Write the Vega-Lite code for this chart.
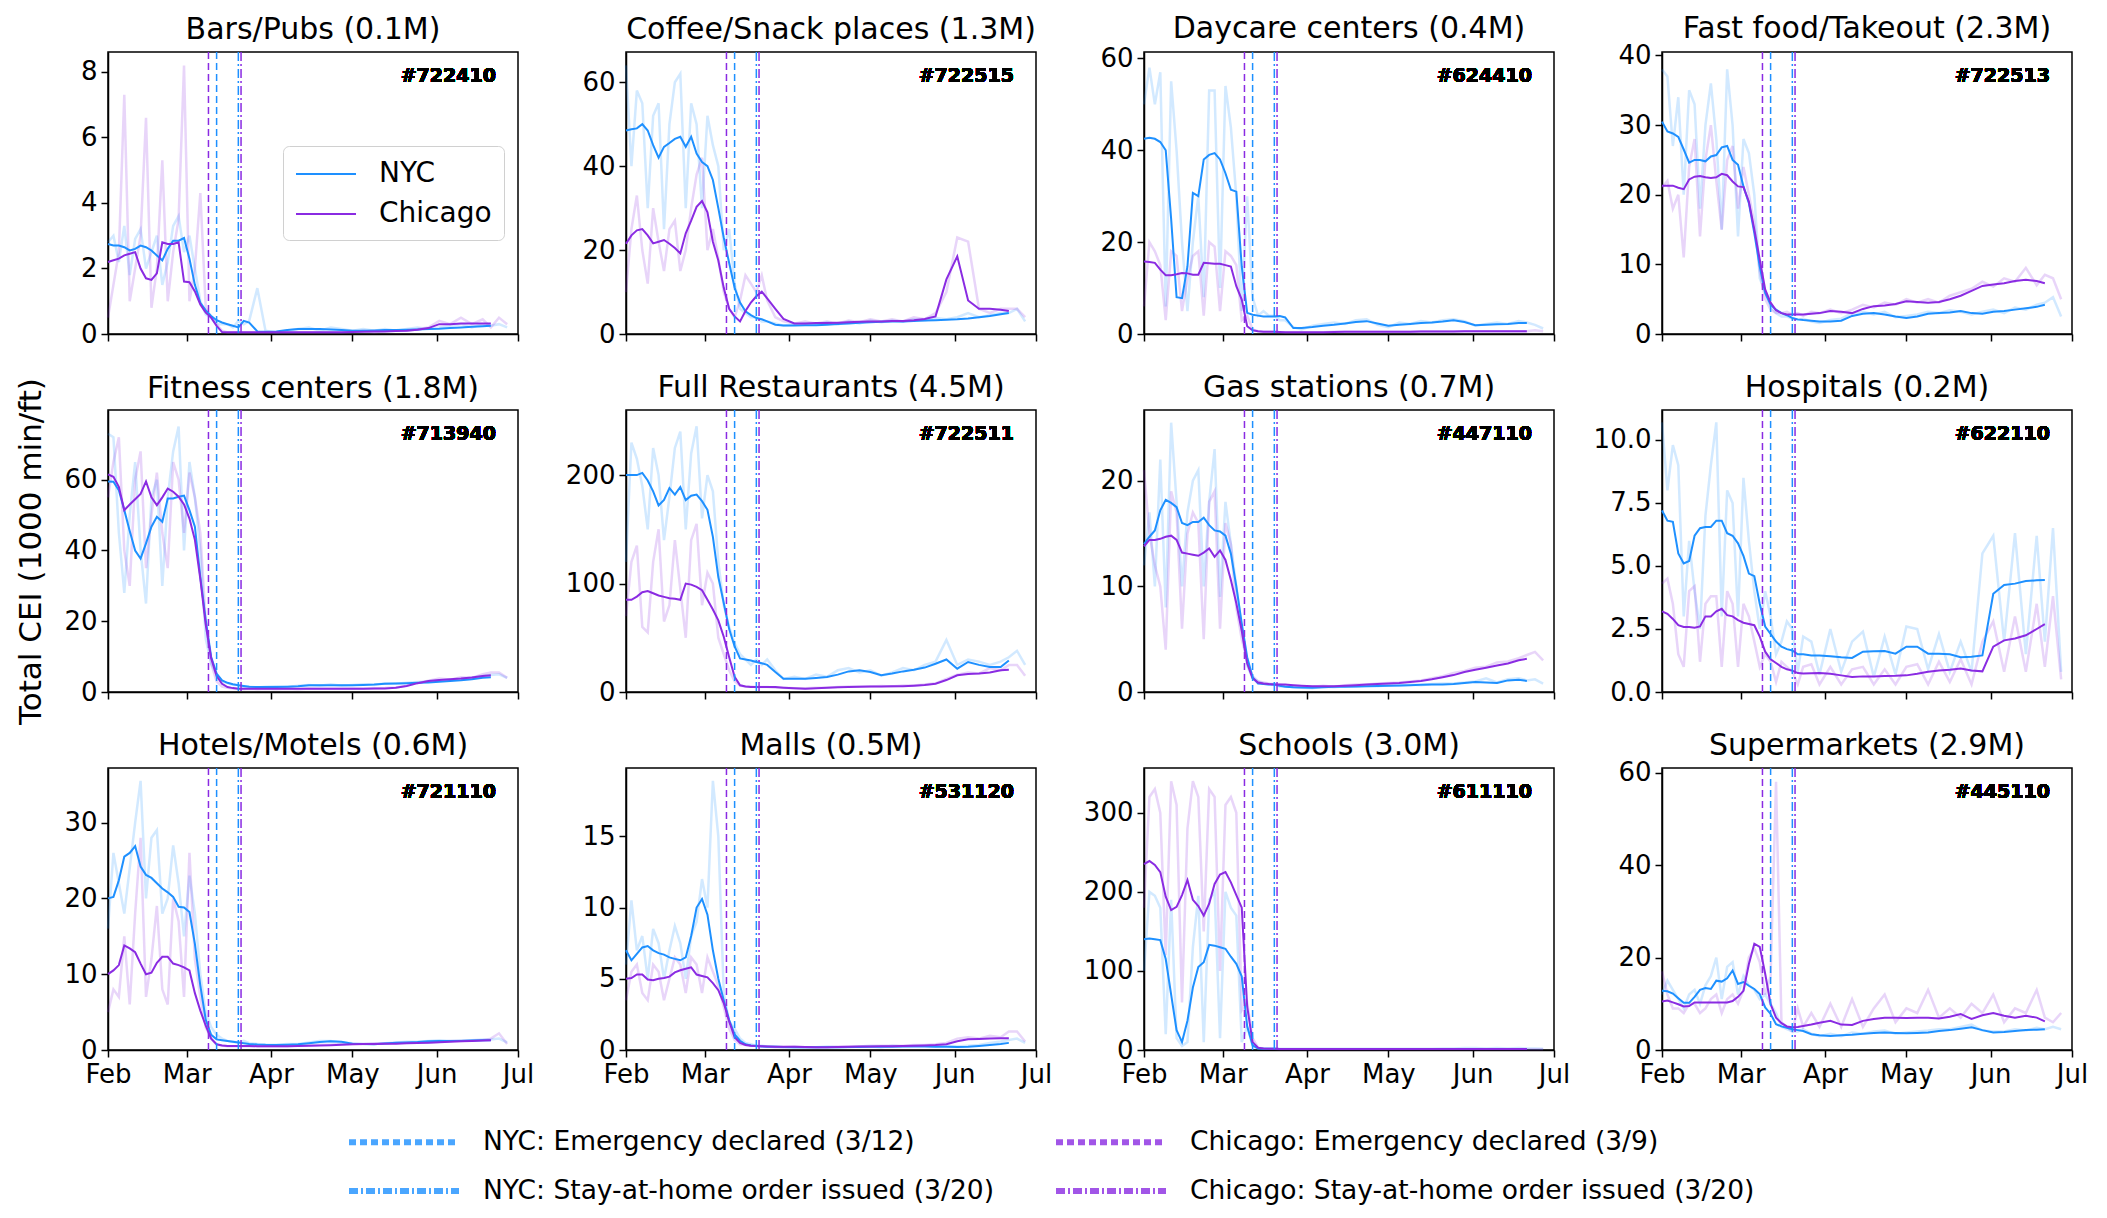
{
  "$schema": "https://vega.github.io/schema/vega-lite/v6.json",
  "background": "white",
  "padding": {"left": 15, "top": 13, "right": 5, "bottom": 5},
  "columns": 4,
  "spacing": {"row": 76, "column": 108},
  "bounds": "flush",
  "datasets": {
    "events": [
      {"d": "2020-03-12", "ev": "NYC: Emergency declared (3/12)"},
      {"d": "2020-03-09", "ev": "Chicago: Emergency declared (3/9)"},
      {"d": "2020-03-20", "ev": "NYC: Stay-at-home order issued (3/20)"},
      {"d": "2020-03-21", "ev": "Chicago: Stay-at-home order issued (3/20)"}
    ],
    "bars": [
      {"d":"2020-02-01","NYC":2.75,"Chicago":2.2,"n":2.8,"c":0.5},
      {"d":"2020-02-03","NYC":2.7,"Chicago":2.25,"n":3.0,"c":1.5},
      {"d":"2020-02-05","NYC":2.7,"Chicago":2.3,"n":2.2,"c":2.5},
      {"d":"2020-02-07","NYC":2.65,"Chicago":2.4,"n":3.3,"c":7.3},
      {"d":"2020-02-09","NYC":2.55,"Chicago":2.45,"n":1.8,"c":1.0},
      {"d":"2020-02-11","NYC":2.6,"Chicago":2.5,"n":2.9,"c":2.0},
      {"d":"2020-02-13","NYC":2.7,"Chicago":2.0,"n":3.2,"c":3.0},
      {"d":"2020-02-15","NYC":2.65,"Chicago":1.7,"n":2.0,"c":6.6},
      {"d":"2020-02-17","NYC":2.55,"Chicago":1.65,"n":2.5,"c":0.8},
      {"d":"2020-02-19","NYC":2.4,"Chicago":1.85,"n":3.0,"c":2.0},
      {"d":"2020-02-21","NYC":2.25,"Chicago":2.8,"n":1.5,"c":5.3},
      {"d":"2020-02-23","NYC":2.6,"Chicago":2.75,"n":2.2,"c":1.0},
      {"d":"2020-02-25","NYC":2.85,"Chicago":2.75,"n":3.3,"c":2.5},
      {"d":"2020-02-27","NYC":2.85,"Chicago":2.8,"n":3.6,"c":3.5},
      {"d":"2020-02-29","NYC":2.93,"Chicago":1.6,"n":2.5,"c":8.2},
      {"d":"2020-03-02","NYC":2.3,"Chicago":1.58,"n":3.0,"c":1.0},
      {"d":"2020-03-04","NYC":1.5,"Chicago":1.3,"n":2.0,"c":2.0},
      {"d":"2020-03-06","NYC":0.95,"Chicago":0.9,"n":1.0,"c":4.3},
      {"d":"2020-03-08","NYC":0.72,"Chicago":0.65,"n":0.6,"c":0.8},
      {"d":"2020-03-10","NYC":0.55,"Chicago":0.5,"n":0.5,"c":0.5},
      {"d":"2020-03-12","NYC":0.42,"Chicago":0.25,"n":0.3,"c":0.3},
      {"d":"2020-03-14","NYC":0.35,"Chicago":0.06,"n":0.3,"c":0.1},
      {"d":"2020-03-16","NYC":0.3,"Chicago":0.05,"n":0.3,"c":0.05},
      {"d":"2020-03-18","NYC":0.25,"Chicago":0.05,"n":0.2,"c":0.05},
      {"d":"2020-03-20","NYC":0.2,"Chicago":0.05,"n":0.4,"c":0.05},
      {"d":"2020-03-22","NYC":0.4,"Chicago":0.05,"n":0.3,"c":0.05},
      {"d":"2020-03-24","NYC":0.35,"Chicago":0.05,"n":0.4,"c":0.05},
      {"d":"2020-03-27","NYC":0.08,"Chicago":0.05,"n":1.4,"c":0.05},
      {"d":"2020-03-30","NYC":0.07,"Chicago":0.05,"n":0.1,"c":0.05},
      {"d":"2020-04-03","NYC":0.08,"Chicago":0.05,"n":0.05,"c":0.05},
      {"d":"2020-04-07","NYC":0.12,"Chicago":0.05,"n":0.1,"c":0.05},
      {"d":"2020-04-11","NYC":0.15,"Chicago":0.05,"n":0.15,"c":0.05},
      {"d":"2020-04-15","NYC":0.15,"Chicago":0.05,"n":0.2,"c":0.05},
      {"d":"2020-04-19","NYC":0.15,"Chicago":0.05,"n":0.1,"c":0.05},
      {"d":"2020-04-23","NYC":0.14,"Chicago":0.05,"n":0.2,"c":0.05},
      {"d":"2020-04-27","NYC":0.12,"Chicago":0.05,"n":0.15,"c":0.05},
      {"d":"2020-05-01","NYC":0.1,"Chicago":0.06,"n":0.1,"c":0.05},
      {"d":"2020-05-05","NYC":0.1,"Chicago":0.07,"n":0.15,"c":0.1},
      {"d":"2020-05-09","NYC":0.11,"Chicago":0.08,"n":0.1,"c":0.05},
      {"d":"2020-05-13","NYC":0.12,"Chicago":0.08,"n":0.15,"c":0.1},
      {"d":"2020-05-17","NYC":0.12,"Chicago":0.09,"n":0.1,"c":0.1},
      {"d":"2020-05-21","NYC":0.13,"Chicago":0.1,"n":0.15,"c":0.1},
      {"d":"2020-05-25","NYC":0.14,"Chicago":0.13,"n":0.2,"c":0.15},
      {"d":"2020-05-29","NYC":0.15,"Chicago":0.18,"n":0.15,"c":0.2},
      {"d":"2020-06-02","NYC":0.16,"Chicago":0.3,"n":0.2,"c":0.4},
      {"d":"2020-06-06","NYC":0.18,"Chicago":0.3,"n":0.25,"c":0.3},
      {"d":"2020-06-10","NYC":0.2,"Chicago":0.32,"n":0.3,"c":0.5},
      {"d":"2020-06-14","NYC":0.22,"Chicago":0.32,"n":0.2,"c":0.3},
      {"d":"2020-06-18","NYC":0.24,"Chicago":0.32,"n":0.3,"c":0.45},
      {"d":"2020-06-21","NYC":0.25,"Chicago":0.32,"n":0.25,"c":0.2},
      {"d":"2020-06-24","n":0.3,"c":0.5},
      {"d":"2020-06-27","n":0.2,"c":0.3}
    ],
    "coffee": [
      {"d":"2020-02-01","NYC":48.5,"Chicago":21.5,"n":64,"c":10},
      {"d":"2020-02-03","NYC":48.8,"Chicago":23.5,"n":40,"c":25},
      {"d":"2020-02-05","NYC":49,"Chicago":24.7,"n":58,"c":33},
      {"d":"2020-02-07","NYC":50,"Chicago":25,"n":55,"c":20},
      {"d":"2020-02-09","NYC":48.5,"Chicago":23.5,"n":30,"c":12},
      {"d":"2020-02-11","NYC":45,"Chicago":21.6,"n":52,"c":30},
      {"d":"2020-02-13","NYC":42,"Chicago":22,"n":55,"c":22},
      {"d":"2020-02-15","NYC":44.6,"Chicago":22.4,"n":25,"c":15},
      {"d":"2020-02-17","NYC":45.5,"Chicago":21.5,"n":50,"c":25},
      {"d":"2020-02-19","NYC":46.5,"Chicago":20.5,"n":60,"c":27},
      {"d":"2020-02-21","NYC":47,"Chicago":19.2,"n":62,"c":15},
      {"d":"2020-02-23","NYC":44.6,"Chicago":24,"n":30,"c":20},
      {"d":"2020-02-25","NYC":47,"Chicago":27,"n":55,"c":30},
      {"d":"2020-02-27","NYC":43,"Chicago":30.3,"n":50,"c":38},
      {"d":"2020-02-29","NYC":41,"Chicago":31.7,"n":30,"c":42},
      {"d":"2020-03-02","NYC":40,"Chicago":29,"n":52,"c":20},
      {"d":"2020-03-04","NYC":36.7,"Chicago":22,"n":45,"c":25},
      {"d":"2020-03-06","NYC":30,"Chicago":17.5,"n":40,"c":18},
      {"d":"2020-03-08","NYC":23,"Chicago":11,"n":20,"c":10},
      {"d":"2020-03-10","NYC":16.9,"Chicago":6,"n":25,"c":6},
      {"d":"2020-03-12","NYC":11,"Chicago":4.2,"n":12,"c":4},
      {"d":"2020-03-14","NYC":7.5,"Chicago":3.0,"n":6,"c":8},
      {"d":"2020-03-16","NYC":5.4,"Chicago":5.5,"n":5,"c":14},
      {"d":"2020-03-18","NYC":4.5,"Chicago":7.5,"n":4,"c":12},
      {"d":"2020-03-20","NYC":3.8,"Chicago":9,"n":4,"c":10},
      {"d":"2020-03-22","NYC":3.5,"Chicago":10.1,"n":3,"c":14},
      {"d":"2020-03-24","NYC":3.0,"Chicago":8.5,"n":3,"c":8},
      {"d":"2020-03-27","NYC":2.2,"Chicago":6,"n":2.5,"c":4},
      {"d":"2020-03-30","NYC":2.0,"Chicago":3.6,"n":2,"c":3},
      {"d":"2020-04-03","NYC":2.0,"Chicago":2.5,"n":2.2,"c":2.5},
      {"d":"2020-04-07","NYC":2.1,"Chicago":2.5,"n":2.5,"c":3},
      {"d":"2020-04-11","NYC":2.1,"Chicago":2.6,"n":2.2,"c":2.5},
      {"d":"2020-04-15","NYC":2.2,"Chicago":2.6,"n":2.8,"c":3},
      {"d":"2020-04-19","NYC":2.4,"Chicago":2.7,"n":2.3,"c":2.5},
      {"d":"2020-04-23","NYC":2.5,"Chicago":2.8,"n":3.0,"c":3.2},
      {"d":"2020-04-27","NYC":2.7,"Chicago":2.9,"n":2.5,"c":2.8},
      {"d":"2020-05-01","NYC":2.8,"Chicago":3.0,"n":3.2,"c":3.5},
      {"d":"2020-05-05","NYC":2.9,"Chicago":3.0,"n":2.8,"c":3},
      {"d":"2020-05-09","NYC":3.0,"Chicago":3.1,"n":3.2,"c":3.5},
      {"d":"2020-05-13","NYC":3.0,"Chicago":3.1,"n":2.9,"c":3},
      {"d":"2020-05-17","NYC":3.1,"Chicago":3.3,"n":3.5,"c":4},
      {"d":"2020-05-21","NYC":3.2,"Chicago":3.6,"n":3.2,"c":3.5},
      {"d":"2020-05-25","NYC":3.3,"Chicago":4.2,"n":3.8,"c":5},
      {"d":"2020-05-29","NYC":3.4,"Chicago":13,"n":3.5,"c":10},
      {"d":"2020-06-02","NYC":3.5,"Chicago":18.5,"n":4,"c":23},
      {"d":"2020-06-06","NYC":3.7,"Chicago":8,"n":5,"c":22},
      {"d":"2020-06-10","NYC":4.0,"Chicago":6,"n":4,"c":6},
      {"d":"2020-06-14","NYC":4.3,"Chicago":6,"n":4.5,"c":5},
      {"d":"2020-06-18","NYC":4.7,"Chicago":5.8,"n":5,"c":6},
      {"d":"2020-06-21","NYC":5.0,"Chicago":5.5,"n":5,"c":6},
      {"d":"2020-06-24","n":6,"c":6},
      {"d":"2020-06-27","n":3,"c":4}
    ],
    "daycare": [
      {"d":"2020-02-01","NYC":42.5,"Chicago":15.8,"n":50,"c":6},
      {"d":"2020-02-03","NYC":42.7,"Chicago":15.7,"n":58,"c":20},
      {"d":"2020-02-05","NYC":42.5,"Chicago":15.5,"n":50,"c":18},
      {"d":"2020-02-07","NYC":41.8,"Chicago":14,"n":57,"c":15},
      {"d":"2020-02-09","NYC":40,"Chicago":12.8,"n":6,"c":3},
      {"d":"2020-02-11","NYC":25,"Chicago":12.8,"n":55,"c":18},
      {"d":"2020-02-13","NYC":8,"Chicago":13,"n":40,"c":17},
      {"d":"2020-02-15","NYC":7.8,"Chicago":13.3,"n":20,"c":5},
      {"d":"2020-02-17","NYC":14.7,"Chicago":13.2,"n":5,"c":12},
      {"d":"2020-02-19","NYC":30.7,"Chicago":12.9,"n":20,"c":17},
      {"d":"2020-02-21","NYC":30,"Chicago":12.9,"n":30,"c":18},
      {"d":"2020-02-23","NYC":38,"Chicago":15.5,"n":8,"c":4},
      {"d":"2020-02-25","NYC":39,"Chicago":15.4,"n":53,"c":20},
      {"d":"2020-02-27","NYC":39.4,"Chicago":15.3,"n":53,"c":19},
      {"d":"2020-02-29","NYC":38,"Chicago":15.3,"n":10,"c":5},
      {"d":"2020-03-02","NYC":35,"Chicago":15,"n":54,"c":18},
      {"d":"2020-03-04","NYC":31.4,"Chicago":14.7,"n":45,"c":17},
      {"d":"2020-03-06","NYC":31,"Chicago":10.4,"n":30,"c":15},
      {"d":"2020-03-08","NYC":14.7,"Chicago":7.5,"n":5,"c":3},
      {"d":"2020-03-10","NYC":4.6,"Chicago":1.7,"n":30,"c":4},
      {"d":"2020-03-12","NYC":4.2,"Chicago":0.8,"n":8,"c":1},
      {"d":"2020-03-14","NYC":4.0,"Chicago":0.6,"n":4,"c":0.6},
      {"d":"2020-03-16","NYC":3.8,"Chicago":0.5,"n":5,"c":0.5},
      {"d":"2020-03-18","NYC":3.8,"Chicago":0.5,"n":4,"c":0.5},
      {"d":"2020-03-20","NYC":3.8,"Chicago":0.5,"n":4,"c":0.5},
      {"d":"2020-03-22","NYC":3.9,"Chicago":0.45,"n":3,"c":0.4},
      {"d":"2020-03-24","NYC":3.6,"Chicago":0.4,"n":3,"c":0.4},
      {"d":"2020-03-27","NYC":1.3,"Chicago":0.4,"n":1.5,"c":0.4},
      {"d":"2020-03-30","NYC":1.3,"Chicago":0.4,"n":1,"c":0.4},
      {"d":"2020-04-03","NYC":1.5,"Chicago":0.4,"n":1.8,"c":0.4},
      {"d":"2020-04-07","NYC":1.8,"Chicago":0.4,"n":2.2,"c":0.4},
      {"d":"2020-04-11","NYC":2.0,"Chicago":0.45,"n":2.5,"c":0.5},
      {"d":"2020-04-15","NYC":2.3,"Chicago":0.5,"n":2.2,"c":0.5},
      {"d":"2020-04-19","NYC":2.6,"Chicago":0.5,"n":3,"c":0.5},
      {"d":"2020-04-23","NYC":2.8,"Chicago":0.5,"n":3.2,"c":0.5},
      {"d":"2020-04-27","NYC":2.3,"Chicago":0.5,"n":2.0,"c":0.5},
      {"d":"2020-05-01","NYC":1.8,"Chicago":0.5,"n":1.5,"c":0.5},
      {"d":"2020-05-05","NYC":2.0,"Chicago":0.5,"n":2.5,"c":0.5},
      {"d":"2020-05-09","NYC":2.2,"Chicago":0.5,"n":2.2,"c":0.5},
      {"d":"2020-05-13","NYC":2.4,"Chicago":0.55,"n":2.8,"c":0.6},
      {"d":"2020-05-17","NYC":2.5,"Chicago":0.55,"n":2.5,"c":0.6},
      {"d":"2020-05-21","NYC":2.7,"Chicago":0.55,"n":3,"c":0.6},
      {"d":"2020-05-25","NYC":3.0,"Chicago":0.55,"n":3.2,"c":0.6},
      {"d":"2020-05-29","NYC":2.6,"Chicago":0.6,"n":2.8,"c":0.6},
      {"d":"2020-06-02","NYC":1.9,"Chicago":0.6,"n":1.8,"c":0.6},
      {"d":"2020-06-06","NYC":2.0,"Chicago":0.6,"n":2.2,"c":0.6},
      {"d":"2020-06-10","NYC":2.1,"Chicago":0.6,"n":2.5,"c":0.6},
      {"d":"2020-06-14","NYC":2.2,"Chicago":0.6,"n":2.2,"c":0.6},
      {"d":"2020-06-18","NYC":2.4,"Chicago":0.6,"n":2.8,"c":0.6},
      {"d":"2020-06-21","NYC":2.4,"Chicago":0.6,"n":2.5,"c":0.6},
      {"d":"2020-06-24","n":2.0,"c":0.8},
      {"d":"2020-06-27","n":1.2,"c":0.6}
    ],
    "fastfood": [
      {"d":"2020-02-01","NYC":30.5,"Chicago":21.3,"n":38,"c":21},
      {"d":"2020-02-03","NYC":29.1,"Chicago":21.3,"n":37,"c":22},
      {"d":"2020-02-05","NYC":28.8,"Chicago":21.3,"n":27,"c":18},
      {"d":"2020-02-07","NYC":28.3,"Chicago":21,"n":34,"c":20},
      {"d":"2020-02-09","NYC":26.5,"Chicago":20.8,"n":20,"c":11},
      {"d":"2020-02-11","NYC":24.6,"Chicago":22.2,"n":35,"c":24},
      {"d":"2020-02-13","NYC":25,"Chicago":22.6,"n":33,"c":28},
      {"d":"2020-02-15","NYC":25,"Chicago":22.7,"n":18,"c":14},
      {"d":"2020-02-17","NYC":24.8,"Chicago":22.5,"n":30,"c":25},
      {"d":"2020-02-19","NYC":25.5,"Chicago":22.4,"n":36,"c":30},
      {"d":"2020-02-21","NYC":25.7,"Chicago":22.5,"n":28,"c":22},
      {"d":"2020-02-23","NYC":26.8,"Chicago":23,"n":15,"c":15},
      {"d":"2020-02-25","NYC":27,"Chicago":22.8,"n":38,"c":25},
      {"d":"2020-02-27","NYC":25,"Chicago":21.9,"n":30,"c":27},
      {"d":"2020-02-29","NYC":24.3,"Chicago":21.2,"n":14,"c":18},
      {"d":"2020-03-02","NYC":21.2,"Chicago":21.1,"n":28,"c":24},
      {"d":"2020-03-04","NYC":18.8,"Chicago":19,"n":26,"c":20},
      {"d":"2020-03-06","NYC":14.5,"Chicago":15,"n":20,"c":16},
      {"d":"2020-03-08","NYC":9.7,"Chicago":10.7,"n":8,"c":9},
      {"d":"2020-03-10","NYC":5.9,"Chicago":6.4,"n":6,"c":5},
      {"d":"2020-03-12","NYC":4.2,"Chicago":4.5,"n":4,"c":3.5},
      {"d":"2020-03-14","NYC":3.5,"Chicago":3.4,"n":3,"c":3},
      {"d":"2020-03-16","NYC":3.0,"Chicago":3.0,"n":2.5,"c":3},
      {"d":"2020-03-18","NYC":2.7,"Chicago":2.8,"n":2.5,"c":3.2},
      {"d":"2020-03-20","NYC":2.3,"Chicago":2.8,"n":2.2,"c":2.8},
      {"d":"2020-03-22","NYC":2.1,"Chicago":2.8,"n":2,"c":3},
      {"d":"2020-03-24","NYC":2.0,"Chicago":2.8,"n":2.2,"c":2.6},
      {"d":"2020-03-27","NYC":1.9,"Chicago":2.9,"n":1.8,"c":3.2},
      {"d":"2020-03-30","NYC":1.8,"Chicago":3.0,"n":1.6,"c":3},
      {"d":"2020-04-03","NYC":1.8,"Chicago":3.3,"n":2,"c":3.5},
      {"d":"2020-04-07","NYC":1.9,"Chicago":3.2,"n":2.2,"c":3},
      {"d":"2020-04-11","NYC":2.6,"Chicago":3.0,"n":3,"c":3.5},
      {"d":"2020-04-15","NYC":2.9,"Chicago":3.6,"n":3.2,"c":4.2},
      {"d":"2020-04-19","NYC":3.0,"Chicago":4.0,"n":2.8,"c":3.8},
      {"d":"2020-04-23","NYC":2.8,"Chicago":4.1,"n":3.2,"c":4.5},
      {"d":"2020-04-27","NYC":2.5,"Chicago":4.3,"n":2.4,"c":4.2},
      {"d":"2020-05-01","NYC":2.3,"Chicago":4.7,"n":2.6,"c":5},
      {"d":"2020-05-05","NYC":2.5,"Chicago":4.6,"n":2.8,"c":4.5},
      {"d":"2020-05-09","NYC":2.9,"Chicago":4.5,"n":3.2,"c":5},
      {"d":"2020-05-13","NYC":3.0,"Chicago":4.6,"n":3,"c":4.5},
      {"d":"2020-05-17","NYC":3.1,"Chicago":5.0,"n":3.4,"c":5.5},
      {"d":"2020-05-21","NYC":3.3,"Chicago":5.5,"n":3.2,"c":6},
      {"d":"2020-05-25","NYC":3.0,"Chicago":6.2,"n":2.8,"c":6.5},
      {"d":"2020-05-29","NYC":2.9,"Chicago":6.9,"n":3.2,"c":7.5},
      {"d":"2020-06-02","NYC":3.2,"Chicago":7.1,"n":3.5,"c":6.8},
      {"d":"2020-06-06","NYC":3.3,"Chicago":7.3,"n":3,"c":8},
      {"d":"2020-06-10","NYC":3.5,"Chicago":7.6,"n":3.8,"c":7.5},
      {"d":"2020-06-14","NYC":3.7,"Chicago":7.8,"n":3.5,"c":9.5},
      {"d":"2020-06-18","NYC":3.9,"Chicago":7.6,"n":4.2,"c":7},
      {"d":"2020-06-21","NYC":4.2,"Chicago":7.3,"n":4.5,"c":8.5},
      {"d":"2020-06-24","n":5.3,"c":8},
      {"d":"2020-06-27","n":2.5,"c":5}
    ],
    "fitness": [
      {"d":"2020-02-01","NYC":59.5,"Chicago":61.5,"n":73,"c":55},
      {"d":"2020-02-03","NYC":59.4,"Chicago":60.8,"n":72,"c":65},
      {"d":"2020-02-05","NYC":57,"Chicago":58,"n":45,"c":72},
      {"d":"2020-02-07","NYC":51.4,"Chicago":51.4,"n":28,"c":40},
      {"d":"2020-02-09","NYC":45.5,"Chicago":53,"n":50,"c":30},
      {"d":"2020-02-11","NYC":40,"Chicago":54.5,"n":65,"c":60},
      {"d":"2020-02-13","NYC":37.7,"Chicago":56,"n":40,"c":68},
      {"d":"2020-02-15","NYC":42,"Chicago":59.5,"n":25,"c":35},
      {"d":"2020-02-17","NYC":46.7,"Chicago":55,"n":55,"c":50},
      {"d":"2020-02-19","NYC":49.5,"Chicago":52.8,"n":60,"c":62},
      {"d":"2020-02-21","NYC":48.1,"Chicago":55,"n":30,"c":45},
      {"d":"2020-02-23","NYC":54.7,"Chicago":57.5,"n":55,"c":35},
      {"d":"2020-02-25","NYC":54.7,"Chicago":56.6,"n":68,"c":65},
      {"d":"2020-02-27","NYC":55.2,"Chicago":55.2,"n":75,"c":60},
      {"d":"2020-02-29","NYC":55.5,"Chicago":53,"n":40,"c":45},
      {"d":"2020-03-02","NYC":51.4,"Chicago":49,"n":65,"c":62},
      {"d":"2020-03-04","NYC":46.7,"Chicago":43,"n":55,"c":55},
      {"d":"2020-03-06","NYC":32.5,"Chicago":32,"n":40,"c":45},
      {"d":"2020-03-08","NYC":20.3,"Chicago":19,"n":15,"c":20},
      {"d":"2020-03-10","NYC":9.9,"Chicago":9.5,"n":8,"c":8},
      {"d":"2020-03-12","NYC":5.2,"Chicago":4.5,"n":5,"c":3},
      {"d":"2020-03-14","NYC":3.3,"Chicago":2.3,"n":3,"c":1.5},
      {"d":"2020-03-16","NYC":2.6,"Chicago":1.4,"n":2.5,"c":1.2},
      {"d":"2020-03-18","NYC":2.2,"Chicago":1.1,"n":2,"c":1},
      {"d":"2020-03-20","NYC":1.9,"Chicago":0.9,"n":2,"c":0.9},
      {"d":"2020-03-22","NYC":1.7,"Chicago":0.9,"n":1.5,"c":0.8},
      {"d":"2020-03-24","NYC":1.5,"Chicago":0.9,"n":1.5,"c":0.9},
      {"d":"2020-03-27","NYC":1.4,"Chicago":0.9,"n":1.3,"c":0.8},
      {"d":"2020-03-30","NYC":1.4,"Chicago":0.9,"n":1.5,"c":0.9},
      {"d":"2020-04-03","NYC":1.4,"Chicago":0.9,"n":1.6,"c":0.8},
      {"d":"2020-04-07","NYC":1.5,"Chicago":0.9,"n":1.4,"c":0.9},
      {"d":"2020-04-11","NYC":1.6,"Chicago":0.9,"n":1.8,"c":0.8},
      {"d":"2020-04-15","NYC":1.9,"Chicago":0.9,"n":2,"c":1},
      {"d":"2020-04-19","NYC":1.9,"Chicago":0.9,"n":1.8,"c":0.9},
      {"d":"2020-04-23","NYC":1.9,"Chicago":0.9,"n":2.2,"c":0.9},
      {"d":"2020-04-27","NYC":1.9,"Chicago":0.9,"n":1.8,"c":0.9},
      {"d":"2020-05-01","NYC":1.9,"Chicago":0.9,"n":2,"c":1},
      {"d":"2020-05-05","NYC":2.0,"Chicago":0.9,"n":2.2,"c":0.9},
      {"d":"2020-05-09","NYC":2.1,"Chicago":1.0,"n":2,"c":1},
      {"d":"2020-05-13","NYC":2.3,"Chicago":1.0,"n":2.5,"c":1.1},
      {"d":"2020-05-17","NYC":2.4,"Chicago":1.2,"n":2.3,"c":1.3},
      {"d":"2020-05-21","NYC":2.5,"Chicago":1.7,"n":2.6,"c":1.8},
      {"d":"2020-05-25","NYC":2.6,"Chicago":2.5,"n":2.8,"c":2.5},
      {"d":"2020-05-29","NYC":2.7,"Chicago":3.1,"n":3,"c":3.2},
      {"d":"2020-06-02","NYC":2.9,"Chicago":3.4,"n":3.2,"c":3.8},
      {"d":"2020-06-06","NYC":3.1,"Chicago":3.6,"n":3.3,"c":3.5},
      {"d":"2020-06-10","NYC":3.3,"Chicago":3.8,"n":3.6,"c":4.2},
      {"d":"2020-06-14","NYC":3.6,"Chicago":4.1,"n":4,"c":4},
      {"d":"2020-06-18","NYC":4.0,"Chicago":4.5,"n":4.5,"c":5},
      {"d":"2020-06-21","NYC":4.2,"Chicago":4.7,"n":4.8,"c":5.5},
      {"d":"2020-06-24","n":5,"c":5.5},
      {"d":"2020-06-27","n":4,"c":4}
    ],
    "fullrest": [
      {"d":"2020-02-01","NYC":200,"Chicago":85,"n":120,"c":70},
      {"d":"2020-02-03","NYC":200,"Chicago":85,"n":230,"c":120},
      {"d":"2020-02-05","NYC":200,"Chicago":88,"n":215,"c":135},
      {"d":"2020-02-07","NYC":202,"Chicago":92,"n":190,"c":60},
      {"d":"2020-02-09","NYC":195,"Chicago":93,"n":150,"c":55},
      {"d":"2020-02-11","NYC":185,"Chicago":91,"n":225,"c":120},
      {"d":"2020-02-13","NYC":172,"Chicago":89,"n":200,"c":150},
      {"d":"2020-02-15","NYC":177,"Chicago":87.7,"n":140,"c":65},
      {"d":"2020-02-17","NYC":188,"Chicago":86.5,"n":180,"c":80},
      {"d":"2020-02-19","NYC":182,"Chicago":86,"n":225,"c":140},
      {"d":"2020-02-21","NYC":189,"Chicago":85,"n":240,"c":95},
      {"d":"2020-02-23","NYC":177,"Chicago":100,"n":150,"c":50},
      {"d":"2020-02-25","NYC":181,"Chicago":99,"n":220,"c":140},
      {"d":"2020-02-27","NYC":182,"Chicago":97,"n":245,"c":155},
      {"d":"2020-02-29","NYC":176,"Chicago":93.8,"n":160,"c":80},
      {"d":"2020-03-02","NYC":168,"Chicago":85,"n":200,"c":110},
      {"d":"2020-03-04","NYC":143,"Chicago":76,"n":185,"c":100},
      {"d":"2020-03-06","NYC":106,"Chicago":66,"n":120,"c":50},
      {"d":"2020-03-08","NYC":82,"Chicago":51,"n":80,"c":35},
      {"d":"2020-03-10","NYC":58,"Chicago":32,"n":60,"c":20},
      {"d":"2020-03-12","NYC":42,"Chicago":14,"n":45,"c":10},
      {"d":"2020-03-14","NYC":31,"Chicago":6.2,"n":35,"c":6},
      {"d":"2020-03-16","NYC":30,"Chicago":5,"n":30,"c":5},
      {"d":"2020-03-18","NYC":29,"Chicago":4.6,"n":25,"c":5},
      {"d":"2020-03-20","NYC":27.7,"Chicago":4.6,"n":30,"c":4.5},
      {"d":"2020-03-22","NYC":26.5,"Chicago":4.6,"n":25,"c":4.5},
      {"d":"2020-03-24","NYC":25,"Chicago":4.6,"n":30,"c":4.5},
      {"d":"2020-03-27","NYC":18.5,"Chicago":4.5,"n":20,"c":4},
      {"d":"2020-03-30","NYC":12.3,"Chicago":4,"n":12,"c":4},
      {"d":"2020-04-03","NYC":12.3,"Chicago":3.5,"n":14,"c":3.5},
      {"d":"2020-04-07","NYC":12.3,"Chicago":3.1,"n":12,"c":3.5},
      {"d":"2020-04-11","NYC":13,"Chicago":3.5,"n":16,"c":4},
      {"d":"2020-04-15","NYC":13.8,"Chicago":4,"n":14,"c":4},
      {"d":"2020-04-19","NYC":16,"Chicago":4.4,"n":20,"c":4.5},
      {"d":"2020-04-23","NYC":19,"Chicago":4.6,"n":22,"c":5},
      {"d":"2020-04-27","NYC":20,"Chicago":4.8,"n":18,"c":5},
      {"d":"2020-05-01","NYC":18.5,"Chicago":5,"n":20,"c":5},
      {"d":"2020-05-05","NYC":15.4,"Chicago":5,"n":15,"c":5.5},
      {"d":"2020-05-09","NYC":17,"Chicago":5.2,"n":18,"c":5},
      {"d":"2020-05-13","NYC":19,"Chicago":5.3,"n":22,"c":6},
      {"d":"2020-05-17","NYC":20.5,"Chicago":5.8,"n":20,"c":6},
      {"d":"2020-05-21","NYC":22.5,"Chicago":6.5,"n":25,"c":7},
      {"d":"2020-05-25","NYC":26,"Chicago":7.7,"n":28,"c":8},
      {"d":"2020-05-29","NYC":30,"Chicago":11,"n":48,"c":12},
      {"d":"2020-06-02","NYC":21.5,"Chicago":15.4,"n":25,"c":16},
      {"d":"2020-06-06","NYC":27.7,"Chicago":16.5,"n":30,"c":18},
      {"d":"2020-06-10","NYC":25,"Chicago":17,"n":28,"c":17},
      {"d":"2020-06-14","NYC":23,"Chicago":18,"n":25,"c":22},
      {"d":"2020-06-18","NYC":23,"Chicago":20,"n":28,"c":20},
      {"d":"2020-06-21","NYC":29,"Chicago":20.6,"n":32,"c":25},
      {"d":"2020-06-24","n":38,"c":25},
      {"d":"2020-06-27","n":25,"c":15}
    ],
    "gas": [
      {"d":"2020-02-01","NYC":14,"Chicago":13.8,"n":12,"c":21},
      {"d":"2020-02-03","NYC":14.7,"Chicago":14.4,"n":17,"c":15},
      {"d":"2020-02-05","NYC":15.3,"Chicago":14.4,"n":10,"c":12},
      {"d":"2020-02-07","NYC":17.2,"Chicago":14.5,"n":22,"c":10},
      {"d":"2020-02-09","NYC":18.2,"Chicago":14.7,"n":8,"c":4},
      {"d":"2020-02-11","NYC":17.9,"Chicago":14.8,"n":25.5,"c":19},
      {"d":"2020-02-13","NYC":17.5,"Chicago":14.4,"n":18,"c":17},
      {"d":"2020-02-15","NYC":16,"Chicago":13.2,"n":10,"c":6},
      {"d":"2020-02-17","NYC":15.8,"Chicago":13.1,"n":17,"c":15},
      {"d":"2020-02-19","NYC":16.1,"Chicago":13,"n":20,"c":17},
      {"d":"2020-02-21","NYC":16.1,"Chicago":12.9,"n":21,"c":16},
      {"d":"2020-02-23","NYC":16.5,"Chicago":13.2,"n":10,"c":5},
      {"d":"2020-02-25","NYC":15.8,"Chicago":13.6,"n":18,"c":18},
      {"d":"2020-02-27","NYC":15.3,"Chicago":12.8,"n":23,"c":19},
      {"d":"2020-02-29","NYC":15.2,"Chicago":13.4,"n":9,"c":6},
      {"d":"2020-03-02","NYC":14.8,"Chicago":12.5,"n":18,"c":16},
      {"d":"2020-03-04","NYC":13.1,"Chicago":10.6,"n":14,"c":14},
      {"d":"2020-03-06","NYC":10,"Chicago":8.4,"n":10,"c":8},
      {"d":"2020-03-08","NYC":6.5,"Chicago":5.8,"n":6,"c":5},
      {"d":"2020-03-10","NYC":3.3,"Chicago":2.7,"n":2.5,"c":3},
      {"d":"2020-03-12","NYC":1.4,"Chicago":1.3,"n":1.3,"c":1.5},
      {"d":"2020-03-14","NYC":0.8,"Chicago":0.9,"n":1.0,"c":1.0},
      {"d":"2020-03-16","NYC":0.75,"Chicago":0.8,"n":0.8,"c":0.9},
      {"d":"2020-03-18","NYC":0.72,"Chicago":0.75,"n":0.7,"c":0.8},
      {"d":"2020-03-20","NYC":0.7,"Chicago":0.72,"n":0.8,"c":0.7},
      {"d":"2020-03-22","NYC":0.6,"Chicago":0.7,"n":0.5,"c":0.7},
      {"d":"2020-03-24","NYC":0.5,"Chicago":0.7,"n":0.6,"c":0.6},
      {"d":"2020-03-27","NYC":0.45,"Chicago":0.65,"n":0.45,"c":0.6},
      {"d":"2020-03-30","NYC":0.42,"Chicago":0.6,"n":0.4,"c":0.55},
      {"d":"2020-04-03","NYC":0.4,"Chicago":0.55,"n":0.35,"c":0.5},
      {"d":"2020-04-07","NYC":0.45,"Chicago":0.55,"n":0.5,"c":0.6},
      {"d":"2020-04-11","NYC":0.5,"Chicago":0.55,"n":0.45,"c":0.5},
      {"d":"2020-04-15","NYC":0.5,"Chicago":0.6,"n":0.55,"c":0.65},
      {"d":"2020-04-19","NYC":0.52,"Chicago":0.65,"n":0.5,"c":0.7},
      {"d":"2020-04-23","NYC":0.55,"Chicago":0.7,"n":0.6,"c":0.7},
      {"d":"2020-04-27","NYC":0.57,"Chicago":0.75,"n":0.55,"c":0.8},
      {"d":"2020-05-01","NYC":0.6,"Chicago":0.8,"n":0.65,"c":0.85},
      {"d":"2020-05-05","NYC":0.62,"Chicago":0.85,"n":0.6,"c":0.9},
      {"d":"2020-05-09","NYC":0.65,"Chicago":0.95,"n":0.7,"c":1.0},
      {"d":"2020-05-13","NYC":0.68,"Chicago":1.05,"n":0.65,"c":1.1},
      {"d":"2020-05-17","NYC":0.7,"Chicago":1.2,"n":0.75,"c":1.3},
      {"d":"2020-05-21","NYC":0.72,"Chicago":1.4,"n":0.8,"c":1.5},
      {"d":"2020-05-25","NYC":0.75,"Chicago":1.6,"n":0.8,"c":1.8},
      {"d":"2020-05-29","NYC":0.85,"Chicago":1.9,"n":0.9,"c":2.0},
      {"d":"2020-06-02","NYC":0.95,"Chicago":2.1,"n":1.0,"c":2.3},
      {"d":"2020-06-06","NYC":0.9,"Chicago":2.3,"n":1.3,"c":2.4},
      {"d":"2020-06-10","NYC":0.85,"Chicago":2.5,"n":0.9,"c":2.8},
      {"d":"2020-06-14","NYC":1.1,"Chicago":2.7,"n":1.2,"c":2.9},
      {"d":"2020-06-18","NYC":1.15,"Chicago":3.0,"n":1.3,"c":3.2},
      {"d":"2020-06-21","NYC":1.05,"Chicago":3.15,"n":1.1,"c":3.5},
      {"d":"2020-06-24","n":1.2,"c":3.8},
      {"d":"2020-06-27","n":0.8,"c":3.0}
    ],
    "hospitals": [
      {"d":"2020-02-01","NYC":7.2,"Chicago":3.2,"n":10.7,"c":4.3},
      {"d":"2020-02-03","NYC":6.8,"Chicago":3.1,"n":8,"c":4.5},
      {"d":"2020-02-05","NYC":6.75,"Chicago":2.9,"n":9.8,"c":3.5},
      {"d":"2020-02-07","NYC":5.5,"Chicago":2.65,"n":9,"c":1.5},
      {"d":"2020-02-09","NYC":5.1,"Chicago":2.58,"n":3,"c":1.0},
      {"d":"2020-02-11","NYC":5.2,"Chicago":2.58,"n":6,"c":4.0},
      {"d":"2020-02-13","NYC":6.2,"Chicago":2.55,"n":4,"c":4.2},
      {"d":"2020-02-15","NYC":6.5,"Chicago":2.6,"n":2.5,"c":1.2},
      {"d":"2020-02-17","NYC":6.55,"Chicago":3.0,"n":7,"c":3.5},
      {"d":"2020-02-19","NYC":6.55,"Chicago":3.0,"n":9,"c":3.8},
      {"d":"2020-02-21","NYC":6.8,"Chicago":3.2,"n":10.7,"c":3.8},
      {"d":"2020-02-23","NYC":6.8,"Chicago":3.3,"n":3,"c":1.0},
      {"d":"2020-02-25","NYC":6.3,"Chicago":3.05,"n":8,"c":4.0},
      {"d":"2020-02-27","NYC":6.2,"Chicago":3.0,"n":7.5,"c":3.5},
      {"d":"2020-02-29","NYC":5.9,"Chicago":2.85,"n":3,"c":1.0},
      {"d":"2020-03-02","NYC":5.4,"Chicago":2.75,"n":8.5,"c":3.5},
      {"d":"2020-03-04","NYC":4.7,"Chicago":2.7,"n":6,"c":3.0},
      {"d":"2020-03-06","NYC":4.6,"Chicago":2.65,"n":4,"c":2.0},
      {"d":"2020-03-08","NYC":3.5,"Chicago":2.2,"n":2.5,"c":1.0},
      {"d":"2020-03-10","NYC":2.6,"Chicago":1.6,"n":4,"c":1.5},
      {"d":"2020-03-12","NYC":2.3,"Chicago":1.3,"n":3,"c":1.2},
      {"d":"2020-03-14","NYC":2.0,"Chicago":1.15,"n":1.5,"c":0.4},
      {"d":"2020-03-16","NYC":1.8,"Chicago":1.0,"n":2,"c":1.2},
      {"d":"2020-03-18","NYC":1.7,"Chicago":0.9,"n":2.8,"c":1.0},
      {"d":"2020-03-20","NYC":1.65,"Chicago":0.85,"n":2.5,"c":0.8},
      {"d":"2020-03-22","NYC":1.5,"Chicago":0.75,"n":0.8,"c":0.3},
      {"d":"2020-03-24","NYC":1.5,"Chicago":0.73,"n":2.2,"c":1.0},
      {"d":"2020-03-27","NYC":1.45,"Chicago":0.74,"n":2.0,"c":1.1},
      {"d":"2020-03-30","NYC":1.45,"Chicago":0.75,"n":0.7,"c":0.3},
      {"d":"2020-04-03","NYC":1.42,"Chicago":0.72,"n":2.5,"c":1.0},
      {"d":"2020-04-07","NYC":1.38,"Chicago":0.66,"n":0.8,"c":0.3},
      {"d":"2020-04-11","NYC":1.35,"Chicago":0.6,"n":2.0,"c":0.9},
      {"d":"2020-04-15","NYC":1.6,"Chicago":0.62,"n":2.4,"c":1.0},
      {"d":"2020-04-19","NYC":1.62,"Chicago":0.62,"n":0.6,"c":0.3},
      {"d":"2020-04-23","NYC":1.63,"Chicago":0.63,"n":2.2,"c":0.9},
      {"d":"2020-04-27","NYC":1.52,"Chicago":0.64,"n":0.7,"c":0.3},
      {"d":"2020-05-01","NYC":1.8,"Chicago":0.66,"n":2.6,"c":1.0},
      {"d":"2020-05-05","NYC":1.8,"Chicago":0.72,"n":2.5,"c":1.1},
      {"d":"2020-05-09","NYC":1.52,"Chicago":0.8,"n":0.9,"c":0.3},
      {"d":"2020-05-13","NYC":1.52,"Chicago":0.85,"n":2.3,"c":1.2},
      {"d":"2020-05-17","NYC":1.5,"Chicago":0.88,"n":0.8,"c":0.4},
      {"d":"2020-05-21","NYC":1.38,"Chicago":0.93,"n":2.0,"c":1.3},
      {"d":"2020-05-25","NYC":1.4,"Chicago":0.85,"n":0.8,"c":0.3},
      {"d":"2020-05-29","NYC":1.45,"Chicago":0.82,"n":5.5,"c":2.0},
      {"d":"2020-06-02","NYC":3.9,"Chicago":1.8,"n":6.2,"c":2.8},
      {"d":"2020-06-06","NYC":4.25,"Chicago":2.05,"n":2.0,"c":0.8},
      {"d":"2020-06-10","NYC":4.3,"Chicago":2.12,"n":6.3,"c":3.0},
      {"d":"2020-06-14","NYC":4.4,"Chicago":2.25,"n":1.5,"c":0.8},
      {"d":"2020-06-18","NYC":4.43,"Chicago":2.5,"n":6.2,"c":3.5},
      {"d":"2020-06-21","NYC":4.44,"Chicago":2.69,"n":2.0,"c":1.0},
      {"d":"2020-06-24","n":6.5,"c":3.8},
      {"d":"2020-06-27","n":0.8,"c":0.5}
    ],
    "hotels": [
      {"d":"2020-02-01","NYC":20,"Chicago":10,"n":16,"c":5},
      {"d":"2020-02-03","NYC":20.2,"Chicago":10.5,"n":26,"c":8},
      {"d":"2020-02-05","NYC":22.4,"Chicago":11.2,"n":22,"c":7},
      {"d":"2020-02-07","NYC":25.5,"Chicago":13.8,"n":18,"c":15},
      {"d":"2020-02-09","NYC":26,"Chicago":13.4,"n":24,"c":6},
      {"d":"2020-02-11","NYC":26.9,"Chicago":12.9,"n":30,"c":18},
      {"d":"2020-02-13","NYC":24.2,"Chicago":11.4,"n":35.5,"c":28},
      {"d":"2020-02-15","NYC":23.1,"Chicago":10,"n":20,"c":7},
      {"d":"2020-02-17","NYC":22.7,"Chicago":10.2,"n":28,"c":12},
      {"d":"2020-02-19","NYC":22,"Chicago":11.5,"n":29,"c":19},
      {"d":"2020-02-21","NYC":21.3,"Chicago":12.3,"n":18,"c":8},
      {"d":"2020-02-23","NYC":20.8,"Chicago":12.3,"n":20,"c":6},
      {"d":"2020-02-25","NYC":20.2,"Chicago":11.4,"n":27,"c":20},
      {"d":"2020-02-27","NYC":18.9,"Chicago":11.2,"n":22,"c":17},
      {"d":"2020-02-29","NYC":18.8,"Chicago":10.9,"n":15,"c":7},
      {"d":"2020-03-02","NYC":18.2,"Chicago":10.5,"n":23,"c":26},
      {"d":"2020-03-04","NYC":14,"Chicago":7.5,"n":18,"c":12},
      {"d":"2020-03-06","NYC":8.5,"Chicago":5.2,"n":10,"c":7},
      {"d":"2020-03-08","NYC":4,"Chicago":3.2,"n":5,"c":3},
      {"d":"2020-03-10","NYC":2.0,"Chicago":1.5,"n":3,"c":1.5},
      {"d":"2020-03-12","NYC":1.4,"Chicago":0.75,"n":2,"c":0.7},
      {"d":"2020-03-14","NYC":1.3,"Chicago":0.6,"n":1.5,"c":0.6},
      {"d":"2020-03-16","NYC":1.2,"Chicago":0.53,"n":1.2,"c":0.5},
      {"d":"2020-03-18","NYC":1.1,"Chicago":0.53,"n":1.1,"c":0.5},
      {"d":"2020-03-20","NYC":1.0,"Chicago":0.53,"n":1.0,"c":0.5},
      {"d":"2020-03-22","NYC":0.9,"Chicago":0.53,"n":1.2,"c":0.5},
      {"d":"2020-03-24","NYC":0.8,"Chicago":0.53,"n":0.9,"c":0.5},
      {"d":"2020-03-27","NYC":0.72,"Chicago":0.5,"n":0.8,"c":0.5},
      {"d":"2020-03-30","NYC":0.68,"Chicago":0.5,"n":0.7,"c":0.5},
      {"d":"2020-04-03","NYC":0.66,"Chicago":0.5,"n":0.7,"c":0.5},
      {"d":"2020-04-07","NYC":0.7,"Chicago":0.5,"n":0.8,"c":0.5},
      {"d":"2020-04-11","NYC":0.76,"Chicago":0.52,"n":0.8,"c":0.6},
      {"d":"2020-04-15","NYC":0.9,"Chicago":0.56,"n":1.0,"c":0.6},
      {"d":"2020-04-19","NYC":1.05,"Chicago":0.6,"n":1.2,"c":0.7},
      {"d":"2020-04-23","NYC":1.15,"Chicago":0.64,"n":1.2,"c":0.7},
      {"d":"2020-04-27","NYC":1.1,"Chicago":0.7,"n":1.0,"c":0.8},
      {"d":"2020-05-01","NYC":0.84,"Chicago":0.75,"n":0.9,"c":0.8},
      {"d":"2020-05-05","NYC":0.8,"Chicago":0.78,"n":0.8,"c":0.8},
      {"d":"2020-05-09","NYC":0.76,"Chicago":0.8,"n":0.8,"c":0.9},
      {"d":"2020-05-13","NYC":0.85,"Chicago":0.82,"n":0.9,"c":0.9},
      {"d":"2020-05-17","NYC":0.95,"Chicago":0.84,"n":1.0,"c":0.9},
      {"d":"2020-05-21","NYC":1.0,"Chicago":0.88,"n":1.1,"c":1.0},
      {"d":"2020-05-25","NYC":1.05,"Chicago":0.92,"n":1.1,"c":1.0},
      {"d":"2020-05-29","NYC":1.15,"Chicago":0.97,"n":1.2,"c":1.0},
      {"d":"2020-06-02","NYC":1.2,"Chicago":1.02,"n":1.3,"c":1.1},
      {"d":"2020-06-06","NYC":1.2,"Chicago":1.08,"n":1.2,"c":1.2},
      {"d":"2020-06-10","NYC":1.2,"Chicago":1.15,"n":1.3,"c":1.2},
      {"d":"2020-06-14","NYC":1.25,"Chicago":1.2,"n":1.3,"c":1.3},
      {"d":"2020-06-18","NYC":1.28,"Chicago":1.25,"n":1.4,"c":1.3},
      {"d":"2020-06-21","NYC":1.3,"Chicago":1.3,"n":1.4,"c":1.5},
      {"d":"2020-06-24","n":1.5,"c":2.2},
      {"d":"2020-06-27","n":1.0,"c":0.8}
    ],
    "malls": [
      {"d":"2020-02-01","NYC":7.0,"Chicago":5.0,"n":6,"c":3.5},
      {"d":"2020-02-03","NYC":6.3,"Chicago":5.05,"n":10.5,"c":5.5},
      {"d":"2020-02-05","NYC":6.75,"Chicago":5.3,"n":7,"c":6},
      {"d":"2020-02-07","NYC":7.2,"Chicago":5.3,"n":8,"c":4},
      {"d":"2020-02-09","NYC":7.3,"Chicago":4.95,"n":5,"c":3.5},
      {"d":"2020-02-11","NYC":7.0,"Chicago":4.9,"n":8.5,"c":6},
      {"d":"2020-02-13","NYC":6.8,"Chicago":5.0,"n":7.5,"c":5.5},
      {"d":"2020-02-15","NYC":6.7,"Chicago":5.05,"n":5,"c":3.5},
      {"d":"2020-02-17","NYC":6.5,"Chicago":5.15,"n":7,"c":5},
      {"d":"2020-02-19","NYC":6.4,"Chicago":5.45,"n":8.7,"c":6.5},
      {"d":"2020-02-21","NYC":6.3,"Chicago":5.6,"n":7.5,"c":6},
      {"d":"2020-02-23","NYC":6.5,"Chicago":5.7,"n":5,"c":4},
      {"d":"2020-02-25","NYC":8.0,"Chicago":5.8,"n":8,"c":6.5},
      {"d":"2020-02-27","NYC":10,"Chicago":5.3,"n":9,"c":6},
      {"d":"2020-02-29","NYC":10.6,"Chicago":5.2,"n":12,"c":4},
      {"d":"2020-03-02","NYC":9.5,"Chicago":5.1,"n":10,"c":6.5},
      {"d":"2020-03-04","NYC":7,"Chicago":4.7,"n":18.9,"c":5.5},
      {"d":"2020-03-06","NYC":5.0,"Chicago":4.2,"n":15,"c":4.5},
      {"d":"2020-03-08","NYC":3.5,"Chicago":3.3,"n":4,"c":3},
      {"d":"2020-03-10","NYC":2.1,"Chicago":2.0,"n":2,"c":1.5},
      {"d":"2020-03-12","NYC":1.1,"Chicago":0.9,"n":1.5,"c":0.7},
      {"d":"2020-03-14","NYC":0.65,"Chicago":0.5,"n":0.8,"c":0.4},
      {"d":"2020-03-16","NYC":0.4,"Chicago":0.35,"n":0.5,"c":0.35},
      {"d":"2020-03-18","NYC":0.32,"Chicago":0.3,"n":0.4,"c":0.3},
      {"d":"2020-03-20","NYC":0.28,"Chicago":0.28,"n":0.3,"c":0.3},
      {"d":"2020-03-22","NYC":0.25,"Chicago":0.26,"n":0.3,"c":0.25},
      {"d":"2020-03-24","NYC":0.23,"Chicago":0.25,"n":0.25,"c":0.25},
      {"d":"2020-03-27","NYC":0.22,"Chicago":0.23,"n":0.25,"c":0.2},
      {"d":"2020-03-30","NYC":0.21,"Chicago":0.22,"n":0.2,"c":0.2},
      {"d":"2020-04-03","NYC":0.2,"Chicago":0.22,"n":0.2,"c":0.25},
      {"d":"2020-04-07","NYC":0.2,"Chicago":0.21,"n":0.2,"c":0.2},
      {"d":"2020-04-11","NYC":0.2,"Chicago":0.2,"n":0.2,"c":0.2},
      {"d":"2020-04-15","NYC":0.2,"Chicago":0.2,"n":0.25,"c":0.2},
      {"d":"2020-04-19","NYC":0.2,"Chicago":0.21,"n":0.2,"c":0.25},
      {"d":"2020-04-23","NYC":0.21,"Chicago":0.22,"n":0.2,"c":0.25},
      {"d":"2020-04-27","NYC":0.21,"Chicago":0.24,"n":0.25,"c":0.25},
      {"d":"2020-05-01","NYC":0.22,"Chicago":0.25,"n":0.25,"c":0.3},
      {"d":"2020-05-05","NYC":0.22,"Chicago":0.26,"n":0.2,"c":0.3},
      {"d":"2020-05-09","NYC":0.23,"Chicago":0.27,"n":0.3,"c":0.3},
      {"d":"2020-05-13","NYC":0.24,"Chicago":0.28,"n":0.25,"c":0.3},
      {"d":"2020-05-17","NYC":0.25,"Chicago":0.3,"n":0.3,"c":0.35},
      {"d":"2020-05-21","NYC":0.24,"Chicago":0.32,"n":0.3,"c":0.35},
      {"d":"2020-05-25","NYC":0.23,"Chicago":0.35,"n":0.25,"c":0.4},
      {"d":"2020-05-29","NYC":0.22,"Chicago":0.4,"n":0.3,"c":0.5},
      {"d":"2020-06-02","NYC":0.21,"Chicago":0.62,"n":0.25,"c":0.8},
      {"d":"2020-06-06","NYC":0.22,"Chicago":0.75,"n":0.3,"c":0.9},
      {"d":"2020-06-10","NYC":0.28,"Chicago":0.78,"n":0.35,"c":0.8},
      {"d":"2020-06-14","NYC":0.35,"Chicago":0.8,"n":0.5,"c":1.0},
      {"d":"2020-06-18","NYC":0.42,"Chicago":0.82,"n":0.6,"c":0.9},
      {"d":"2020-06-21","NYC":0.5,"Chicago":0.82,"n":0.7,"c":1.3},
      {"d":"2020-06-24","n":0.8,"c":1.3},
      {"d":"2020-06-27","n":0.5,"c":0.6}
    ],
    "schools": [
      {"d":"2020-02-01","NYC":140,"Chicago":235,"n":100,"c":180},
      {"d":"2020-02-03","NYC":141,"Chicago":239,"n":200,"c":320},
      {"d":"2020-02-05","NYC":140,"Chicago":234,"n":195,"c":330},
      {"d":"2020-02-07","NYC":139,"Chicago":225,"n":180,"c":300},
      {"d":"2020-02-09","NYC":115,"Chicago":194,"n":20,"c":120},
      {"d":"2020-02-11","NYC":70,"Chicago":177,"n":190,"c":340},
      {"d":"2020-02-13","NYC":25,"Chicago":181,"n":15,"c":310},
      {"d":"2020-02-15","NYC":10,"Chicago":196,"n":5,"c":60},
      {"d":"2020-02-17","NYC":37,"Chicago":215,"n":10,"c":280},
      {"d":"2020-02-19","NYC":79,"Chicago":190,"n":130,"c":340},
      {"d":"2020-02-21","NYC":105,"Chicago":182,"n":195,"c":320},
      {"d":"2020-02-23","NYC":111,"Chicago":170,"n":10,"c":150},
      {"d":"2020-02-25","NYC":133,"Chicago":185,"n":190,"c":330},
      {"d":"2020-02-27","NYC":132,"Chicago":210,"n":200,"c":320},
      {"d":"2020-02-29","NYC":130,"Chicago":222,"n":15,"c":100},
      {"d":"2020-03-02","NYC":128,"Chicago":225,"n":200,"c":310},
      {"d":"2020-03-04","NYC":118,"Chicago":212,"n":180,"c":320},
      {"d":"2020-03-06","NYC":109,"Chicago":196,"n":170,"c":300},
      {"d":"2020-03-08","NYC":93,"Chicago":180,"n":10,"c":50},
      {"d":"2020-03-10","NYC":30,"Chicago":55,"n":30,"c":60},
      {"d":"2020-03-12","NYC":6,"Chicago":10,"n":5,"c":15},
      {"d":"2020-03-14","NYC":2,"Chicago":3,"n":2,"c":3},
      {"d":"2020-03-16","NYC":1.5,"Chicago":2,"n":2,"c":2},
      {"d":"2020-03-18","NYC":1.5,"Chicago":1.5,"n":1.5,"c":1.5},
      {"d":"2020-03-20","NYC":1.5,"Chicago":1.5,"n":1.5,"c":1.5},
      {"d":"2020-03-22","NYC":1.2,"Chicago":1.2,"n":1.5,"c":1},
      {"d":"2020-03-24","NYC":1.2,"Chicago":1.2,"n":1.5,"c":1},
      {"d":"2020-03-27","NYC":1.2,"Chicago":1.2,"n":1.5,"c":1},
      {"d":"2020-03-30","NYC":1.2,"Chicago":1.2,"n":1.5,"c":1},
      {"d":"2020-04-03","NYC":1.2,"Chicago":1.2,"n":1.5,"c":1},
      {"d":"2020-04-07","NYC":1.2,"Chicago":1.2,"n":1.5,"c":1},
      {"d":"2020-04-11","NYC":1.2,"Chicago":1.2,"n":1.5,"c":1},
      {"d":"2020-04-15","NYC":1.2,"Chicago":1.2,"n":1.5,"c":1},
      {"d":"2020-04-19","NYC":1.2,"Chicago":1.2,"n":1.5,"c":1},
      {"d":"2020-04-23","NYC":1.2,"Chicago":1.2,"n":1.5,"c":1},
      {"d":"2020-04-27","NYC":1.2,"Chicago":1.2,"n":1.5,"c":1},
      {"d":"2020-05-01","NYC":1.2,"Chicago":1.2,"n":1.5,"c":1},
      {"d":"2020-05-05","NYC":1.2,"Chicago":1.2,"n":1.5,"c":1},
      {"d":"2020-05-09","NYC":1.2,"Chicago":1.2,"n":1.5,"c":1},
      {"d":"2020-05-13","NYC":1.2,"Chicago":1.2,"n":1.5,"c":1},
      {"d":"2020-05-17","NYC":1.2,"Chicago":1.2,"n":1.5,"c":1},
      {"d":"2020-05-21","NYC":1.2,"Chicago":1.2,"n":2,"c":1},
      {"d":"2020-05-25","NYC":1.2,"Chicago":1.2,"n":2,"c":1},
      {"d":"2020-05-29","NYC":1.2,"Chicago":1.2,"n":2.5,"c":1},
      {"d":"2020-06-02","NYC":1.2,"Chicago":1.2,"n":2.5,"c":1},
      {"d":"2020-06-06","NYC":1.2,"Chicago":1.2,"n":2,"c":1},
      {"d":"2020-06-10","NYC":1.2,"Chicago":1.2,"n":2.5,"c":1},
      {"d":"2020-06-14","NYC":1.2,"Chicago":1.2,"n":2,"c":1},
      {"d":"2020-06-18","NYC":1.2,"Chicago":1.2,"n":2.5,"c":1},
      {"d":"2020-06-21","NYC":1.2,"Chicago":1.2,"n":2,"c":1},
      {"d":"2020-06-24","n":2,"c":1},
      {"d":"2020-06-27","n":1.5,"c":1}
    ],
    "supermarkets": [
      {"d":"2020-02-01","NYC":12.8,"Chicago":10.5,"n":12,"c":17},
      {"d":"2020-02-03","NYC":12.7,"Chicago":10.7,"n":15,"c":12},
      {"d":"2020-02-05","NYC":12.2,"Chicago":10.3,"n":13,"c":9},
      {"d":"2020-02-07","NYC":11.2,"Chicago":9.9,"n":11,"c":9},
      {"d":"2020-02-09","NYC":10.2,"Chicago":9.4,"n":9,"c":8},
      {"d":"2020-02-11","NYC":10.2,"Chicago":9.5,"n":12,"c":10},
      {"d":"2020-02-13","NYC":11.5,"Chicago":10.3,"n":13,"c":10},
      {"d":"2020-02-15","NYC":13,"Chicago":10.3,"n":10,"c":8},
      {"d":"2020-02-17","NYC":13.4,"Chicago":10.3,"n":14,"c":9},
      {"d":"2020-02-19","NYC":13.2,"Chicago":10.3,"n":16,"c":11},
      {"d":"2020-02-21","NYC":15,"Chicago":10.3,"n":20,"c":12},
      {"d":"2020-02-23","NYC":14.8,"Chicago":10.3,"n":11,"c":8},
      {"d":"2020-02-25","NYC":15.5,"Chicago":10.3,"n":18,"c":11},
      {"d":"2020-02-27","NYC":17.2,"Chicago":10.6,"n":19,"c":12},
      {"d":"2020-02-29","NYC":14.3,"Chicago":11.5,"n":12,"c":10},
      {"d":"2020-03-02","NYC":14.7,"Chicago":12.8,"n":16,"c":13},
      {"d":"2020-03-04","NYC":13.9,"Chicago":18.6,"n":14,"c":20},
      {"d":"2020-03-06","NYC":13.2,"Chicago":23,"n":13,"c":22},
      {"d":"2020-03-08","NYC":12.1,"Chicago":22.3,"n":11,"c":19},
      {"d":"2020-03-10","NYC":9.2,"Chicago":16.5,"n":12,"c":12},
      {"d":"2020-03-12","NYC":7.8,"Chicago":9.9,"n":10,"c":16},
      {"d":"2020-03-14","NYC":5.6,"Chicago":7.0,"n":8,"c":58},
      {"d":"2020-03-16","NYC":5.1,"Chicago":5.8,"n":5,"c":6},
      {"d":"2020-03-18","NYC":4.8,"Chicago":5.1,"n":4.5,"c":5},
      {"d":"2020-03-20","NYC":4.5,"Chicago":4.9,"n":4,"c":4},
      {"d":"2020-03-22","NYC":4.3,"Chicago":5.0,"n":4,"c":9},
      {"d":"2020-03-24","NYC":4.1,"Chicago":5.2,"n":4.5,"c":5},
      {"d":"2020-03-27","NYC":3.4,"Chicago":5.5,"n":3.5,"c":8},
      {"d":"2020-03-30","NYC":3.2,"Chicago":5.9,"n":3,"c":5},
      {"d":"2020-04-03","NYC":3.05,"Chicago":6.3,"n":3.5,"c":10},
      {"d":"2020-04-07","NYC":3.2,"Chicago":5.5,"n":3,"c":5},
      {"d":"2020-04-11","NYC":3.3,"Chicago":5.4,"n":3.8,"c":11},
      {"d":"2020-04-15","NYC":3.5,"Chicago":6.3,"n":3.5,"c":5},
      {"d":"2020-04-19","NYC":3.7,"Chicago":6.7,"n":4,"c":9},
      {"d":"2020-04-23","NYC":3.8,"Chicago":7.0,"n":4.2,"c":12},
      {"d":"2020-04-27","NYC":3.7,"Chicago":7.0,"n":3.5,"c":6},
      {"d":"2020-05-01","NYC":3.6,"Chicago":6.9,"n":3.8,"c":9},
      {"d":"2020-05-05","NYC":3.7,"Chicago":7.0,"n":4,"c":8},
      {"d":"2020-05-09","NYC":3.8,"Chicago":7.0,"n":4.2,"c":13},
      {"d":"2020-05-13","NYC":4.1,"Chicago":6.8,"n":4.5,"c":7},
      {"d":"2020-05-17","NYC":4.3,"Chicago":7.2,"n":4.5,"c":9},
      {"d":"2020-05-21","NYC":4.6,"Chicago":7.8,"n":5,"c":7},
      {"d":"2020-05-25","NYC":4.9,"Chicago":6.7,"n":5.5,"c":10},
      {"d":"2020-05-29","NYC":4.3,"Chicago":7.5,"n":4.2,"c":8},
      {"d":"2020-06-02","NYC":3.8,"Chicago":8.0,"n":4,"c":12},
      {"d":"2020-06-06","NYC":3.9,"Chicago":7.4,"n":4,"c":6},
      {"d":"2020-06-10","NYC":4.1,"Chicago":7.0,"n":4.5,"c":9},
      {"d":"2020-06-14","NYC":4.3,"Chicago":7.4,"n":4.2,"c":8},
      {"d":"2020-06-18","NYC":4.4,"Chicago":7.0,"n":4.8,"c":13},
      {"d":"2020-06-21","NYC":4.5,"Chicago":6.2,"n":4.5,"c":7},
      {"d":"2020-06-24","n":5,"c":6},
      {"d":"2020-06-27","n":4.5,"c":8}
    ]
  },
  "concat": [
    {
      "title": "Bars/Pubs (0.1M)",
      "data": {"name": "bars"},
      "encoding": {"x": {"field": "d", "type": "temporal", "scale": {"type": "utc", "domain": [{"year": 2020, "month": "feb", "date": 1, "utc": true}, {"year": 2020, "month": "jul", "date": 1, "utc": true}]}, "axis": {"tickCount": "month", "labels": false, "title": null}}},
      "layer": [
        {"transform": [{"fold": ["n", "c"], "as": ["key", "v"]}, {"filter": "isValid(datum.v)"}], "mark": {"type": "line", "strokeWidth": 2.5, "opacity": 0.2}, "encoding": {"y": {"field": "v", "type": "quantitative", "scale": {"domain": [0, 8.61], "nice": false}, "axis": {"values": [0, 2, 4, 6, 8], "title": null}}, "detail": {"field": "key", "type": "nominal"}, "color": {"condition": {"test": "datum.key == 'n'", "value": "#1e90ff"}, "value": "#8a2be2"}}},
        {"transform": [{"fold": ["NYC", "Chicago"], "as": ["city", "v"]}, {"filter": "isValid(datum.v)"}], "mark": {"type": "line", "strokeWidth": 2}, "encoding": {"y": {"field": "v", "type": "quantitative"}, "color": {"field": "city", "type": "nominal", "scale": {"domain": ["NYC", "Chicago"], "range": ["#1e90ff", "#8a2be2"]}, "legend": {"orient": "none", "legendX": 175, "legendY": 94, "title": null, "symbolType": "M-1,0H3", "symbolSize": 900, "symbolStrokeWidth": 2, "labelFontSize": 28, "labelOffset": 52, "rowPadding": 10, "padding": 12, "strokeColor": "#d0d0d0", "fillColor": "white", "cornerRadius": 6}}}},
        {"data": {"name": "events"}, "mark": {"type": "rule", "strokeWidth": 1.5}, "encoding": {
          "stroke": {"field": "ev", "type": "nominal", "scale": {"domain": ["NYC: Emergency declared (3/12)", "NYC: Stay-at-home order issued (3/20)", "Chicago: Emergency declared (3/9)", "Chicago: Stay-at-home order issued (3/20)"], "range": ["#1e90ff", "#1e90ff", "#8a2be2", "#8a2be2"]}, "legend": {"orient": "none", "direction": "vertical", "legendX": 238, "legendY": 1076, "title": null, "columns": 2, "columnPadding": 50, "rowPadding": 21, "symbolType": "M-1,0H9", "symbolSize": 484, "symbolStrokeWidth": 6, "symbolOpacity": 0.8, "labelFontSize": 26.5, "labelOffset": 109, "labelLimit": 900}},
          "strokeDash": {"field": "ev", "type": "nominal", "scale": {"domain": ["NYC: Emergency declared (3/12)", "NYC: Stay-at-home order issued (3/20)", "Chicago: Emergency declared (3/9)", "Chicago: Stay-at-home order issued (3/20)"], "range": [[7, 4], [9, 3, 2, 3], [7, 4], [9, 3, 2, 3]]}, "legend": {"orient": "none", "direction": "vertical", "legendX": 238, "legendY": 1076, "title": null, "columns": 2, "columnPadding": 50, "rowPadding": 21, "symbolType": "M-1,0H9", "symbolSize": 484, "symbolStrokeWidth": 6, "symbolOpacity": 0.8, "labelFontSize": 26.5, "labelOffset": 109, "labelLimit": 900}}}},
        {"mark": {"type": "text", "align": "right", "baseline": "middle", "fontWeight": "bold", "fontSize": 19}, "encoding": {"x": {"datum": {"year": 2020, "month": "jun", "date": 22, "hours": 21, "utc": true}}, "y": {"datum": 7.88}, "text": {"value": "#722410"}}}
      ]
    },
    {
      "title": "Coffee/Snack places (1.3M)",
      "data": {"name": "coffee"},
      "encoding": {"x": {"field": "d", "type": "temporal", "scale": {"type": "utc", "domain": [{"year": 2020, "month": "feb", "date": 1, "utc": true}, {"year": 2020, "month": "jul", "date": 1, "utc": true}]}, "axis": {"tickCount": "month", "labels": false, "title": null}}},
      "layer": [
        {"transform": [{"fold": ["n", "c"], "as": ["key", "v"]}, {"filter": "isValid(datum.v)"}], "mark": {"type": "line", "strokeWidth": 2.5, "opacity": 0.2}, "encoding": {"y": {"field": "v", "type": "quantitative", "scale": {"domain": [0, 67.2], "nice": false}, "axis": {"values": [0, 20, 40, 60], "title": null}}, "detail": {"field": "key", "type": "nominal"}, "color": {"condition": {"test": "datum.key == 'n'", "value": "#1e90ff"}, "value": "#8a2be2"}}},
        {"transform": [{"fold": ["NYC", "Chicago"], "as": ["city", "v"]}, {"filter": "isValid(datum.v)"}], "mark": {"type": "line", "strokeWidth": 2}, "encoding": {"y": {"field": "v", "type": "quantitative"}, "color": {"field": "city", "type": "nominal"}}},
        {"data": {"name": "events"}, "mark": {"type": "rule", "strokeWidth": 1.5}, "encoding": {"stroke": {"field": "ev", "type": "nominal"}, "strokeDash": {"field": "ev", "type": "nominal"}}},
        {"mark": {"type": "text", "align": "right", "baseline": "middle", "fontWeight": "bold", "fontSize": 19}, "encoding": {"x": {"datum": {"year": 2020, "month": "jun", "date": 22, "hours": 21, "utc": true}}, "y": {"datum": 61.5}, "text": {"value": "#722515"}}}
      ]
    },
    {
      "title": {"text": "Daycare centers (0.4M)", "offset": 1},
      "data": {"name": "daycare"},
      "encoding": {"x": {"field": "d", "type": "temporal", "scale": {"type": "utc", "domain": [{"year": 2020, "month": "feb", "date": 1, "utc": true}, {"year": 2020, "month": "jul", "date": 1, "utc": true}]}, "axis": {"tickCount": "month", "labels": false, "title": null}}},
      "layer": [
        {"transform": [{"fold": ["n", "c"], "as": ["key", "v"]}, {"filter": "isValid(datum.v)"}], "mark": {"type": "line", "strokeWidth": 2.5, "opacity": 0.2}, "encoding": {"y": {"field": "v", "type": "quantitative", "scale": {"domain": [0, 61.4], "nice": false}, "axis": {"values": [0, 20, 40, 60], "title": null}}, "detail": {"field": "key", "type": "nominal"}, "color": {"condition": {"test": "datum.key == 'n'", "value": "#1e90ff"}, "value": "#8a2be2"}}},
        {"transform": [{"fold": ["NYC", "Chicago"], "as": ["city", "v"]}, {"filter": "isValid(datum.v)"}], "mark": {"type": "line", "strokeWidth": 2}, "encoding": {"y": {"field": "v", "type": "quantitative"}, "color": {"field": "city", "type": "nominal"}}},
        {"data": {"name": "events"}, "mark": {"type": "rule", "strokeWidth": 1.5}, "encoding": {"stroke": {"field": "ev", "type": "nominal"}, "strokeDash": {"field": "ev", "type": "nominal"}}},
        {"mark": {"type": "text", "align": "right", "baseline": "middle", "fontWeight": "bold", "fontSize": 19}, "encoding": {"x": {"datum": {"year": 2020, "month": "jun", "date": 22, "hours": 21, "utc": true}}, "y": {"datum": 56.2}, "text": {"value": "#624410"}}}
      ]
    },
    {
      "title": {"text": "Fast food/Takeout (2.3M)", "offset": -2},
      "data": {"name": "fastfood"},
      "encoding": {"x": {"field": "d", "type": "temporal", "scale": {"type": "utc", "domain": [{"year": 2020, "month": "feb", "date": 1, "utc": true}, {"year": 2020, "month": "jul", "date": 1, "utc": true}]}, "axis": {"tickCount": "month", "labels": false, "title": null}}},
      "layer": [
        {"transform": [{"fold": ["n", "c"], "as": ["key", "v"]}, {"filter": "isValid(datum.v)"}], "mark": {"type": "line", "strokeWidth": 2.5, "opacity": 0.2}, "encoding": {"y": {"field": "v", "type": "quantitative", "scale": {"domain": [0, 40.5], "nice": false}, "axis": {"values": [0, 10, 20, 30, 40], "title": null}}, "detail": {"field": "key", "type": "nominal"}, "color": {"condition": {"test": "datum.key == 'n'", "value": "#1e90ff"}, "value": "#8a2be2"}}},
        {"transform": [{"fold": ["NYC", "Chicago"], "as": ["city", "v"]}, {"filter": "isValid(datum.v)"}], "mark": {"type": "line", "strokeWidth": 2}, "encoding": {"y": {"field": "v", "type": "quantitative"}, "color": {"field": "city", "type": "nominal"}}},
        {"data": {"name": "events"}, "mark": {"type": "rule", "strokeWidth": 1.5}, "encoding": {"stroke": {"field": "ev", "type": "nominal"}, "strokeDash": {"field": "ev", "type": "nominal"}}},
        {"mark": {"type": "text", "align": "right", "baseline": "middle", "fontWeight": "bold", "fontSize": 19}, "encoding": {"x": {"datum": {"year": 2020, "month": "jun", "date": 22, "hours": 21, "utc": true}}, "y": {"datum": 37.1}, "text": {"value": "#722513"}}}
      ]
    },
    {
      "title": {"text": "Fitness centers (1.8M)", "offset": -26},
      "data": {"name": "fitness"},
      "encoding": {"x": {"field": "d", "type": "temporal", "scale": {"type": "utc", "domain": [{"year": 2020, "month": "feb", "date": 1, "utc": true}, {"year": 2020, "month": "jul", "date": 1, "utc": true}]}, "axis": {"tickCount": "month", "labels": false, "title": null}}},
      "layer": [
        {"transform": [{"fold": ["n", "c"], "as": ["key", "v"]}, {"filter": "isValid(datum.v)"}], "mark": {"type": "line", "strokeWidth": 2.5, "opacity": 0.2}, "encoding": {"y": {"field": "v", "type": "quantitative", "scale": {"domain": [0, 79.7], "nice": false}, "axis": {"values": [0, 20, 40, 60], "title": "Total CEI (1000 min/ft)", "titlePadding": 16, "titleFontSize": 31}}, "detail": {"field": "key", "type": "nominal"}, "color": {"condition": {"test": "datum.key == 'n'", "value": "#1e90ff"}, "value": "#8a2be2"}}},
        {"transform": [{"fold": ["NYC", "Chicago"], "as": ["city", "v"]}, {"filter": "isValid(datum.v)"}], "mark": {"type": "line", "strokeWidth": 2}, "encoding": {"y": {"field": "v", "type": "quantitative"}, "color": {"field": "city", "type": "nominal"}}},
        {"data": {"name": "events"}, "mark": {"type": "rule", "strokeWidth": 1.5}, "encoding": {"stroke": {"field": "ev", "type": "nominal"}, "strokeDash": {"field": "ev", "type": "nominal"}}},
        {"mark": {"type": "text", "align": "right", "baseline": "middle", "fontWeight": "bold", "fontSize": 19}, "encoding": {"x": {"datum": {"year": 2020, "month": "jun", "date": 22, "hours": 21, "utc": true}}, "y": {"datum": 72.9}, "text": {"value": "#713940"}}}
      ]
    },
    {
      "title": "Full Restaurants (4.5M)",
      "data": {"name": "fullrest"},
      "encoding": {"x": {"field": "d", "type": "temporal", "scale": {"type": "utc", "domain": [{"year": 2020, "month": "feb", "date": 1, "utc": true}, {"year": 2020, "month": "jul", "date": 1, "utc": true}]}, "axis": {"tickCount": "month", "labels": false, "title": null}}},
      "layer": [
        {"transform": [{"fold": ["n", "c"], "as": ["key", "v"]}, {"filter": "isValid(datum.v)"}], "mark": {"type": "line", "strokeWidth": 2.5, "opacity": 0.2}, "encoding": {"y": {"field": "v", "type": "quantitative", "scale": {"domain": [0, 260], "nice": false}, "axis": {"values": [0, 100, 200], "title": null}}, "detail": {"field": "key", "type": "nominal"}, "color": {"condition": {"test": "datum.key == 'n'", "value": "#1e90ff"}, "value": "#8a2be2"}}},
        {"transform": [{"fold": ["NYC", "Chicago"], "as": ["city", "v"]}, {"filter": "isValid(datum.v)"}], "mark": {"type": "line", "strokeWidth": 2}, "encoding": {"y": {"field": "v", "type": "quantitative"}, "color": {"field": "city", "type": "nominal"}}},
        {"data": {"name": "events"}, "mark": {"type": "rule", "strokeWidth": 1.5}, "encoding": {"stroke": {"field": "ev", "type": "nominal"}, "strokeDash": {"field": "ev", "type": "nominal"}}},
        {"mark": {"type": "text", "align": "right", "baseline": "middle", "fontWeight": "bold", "fontSize": 19}, "encoding": {"x": {"datum": {"year": 2020, "month": "jun", "date": 22, "hours": 21, "utc": true}}, "y": {"datum": 238}, "text": {"value": "#722511"}}}
      ]
    },
    {
      "title": "Gas stations (0.7M)",
      "data": {"name": "gas"},
      "encoding": {"x": {"field": "d", "type": "temporal", "scale": {"type": "utc", "domain": [{"year": 2020, "month": "feb", "date": 1, "utc": true}, {"year": 2020, "month": "jul", "date": 1, "utc": true}]}, "axis": {"tickCount": "month", "labels": false, "title": null}}},
      "layer": [
        {"transform": [{"fold": ["n", "c"], "as": ["key", "v"]}, {"filter": "isValid(datum.v)"}], "mark": {"type": "line", "strokeWidth": 2.5, "opacity": 0.2}, "encoding": {"y": {"field": "v", "type": "quantitative", "scale": {"domain": [0, 26.7], "nice": false}, "axis": {"values": [0, 10, 20], "title": null}}, "detail": {"field": "key", "type": "nominal"}, "color": {"condition": {"test": "datum.key == 'n'", "value": "#1e90ff"}, "value": "#8a2be2"}}},
        {"transform": [{"fold": ["NYC", "Chicago"], "as": ["city", "v"]}, {"filter": "isValid(datum.v)"}], "mark": {"type": "line", "strokeWidth": 2}, "encoding": {"y": {"field": "v", "type": "quantitative"}, "color": {"field": "city", "type": "nominal"}}},
        {"data": {"name": "events"}, "mark": {"type": "rule", "strokeWidth": 1.5}, "encoding": {"stroke": {"field": "ev", "type": "nominal"}, "strokeDash": {"field": "ev", "type": "nominal"}}},
        {"mark": {"type": "text", "align": "right", "baseline": "middle", "fontWeight": "bold", "fontSize": 19}, "encoding": {"x": {"datum": {"year": 2020, "month": "jun", "date": 22, "hours": 21, "utc": true}}, "y": {"datum": 24.4}, "text": {"value": "#447110"}}}
      ]
    },
    {
      "title": "Hospitals (0.2M)",
      "data": {"name": "hospitals"},
      "encoding": {"x": {"field": "d", "type": "temporal", "scale": {"type": "utc", "domain": [{"year": 2020, "month": "feb", "date": 1, "utc": true}, {"year": 2020, "month": "jul", "date": 1, "utc": true}]}, "axis": {"tickCount": "month", "labels": false, "title": null}}},
      "layer": [
        {"transform": [{"fold": ["n", "c"], "as": ["key", "v"]}, {"filter": "isValid(datum.v)"}], "mark": {"type": "line", "strokeWidth": 2.5, "opacity": 0.2}, "encoding": {"y": {"field": "v", "type": "quantitative", "scale": {"domain": [0, 11.19], "nice": false}, "axis": {"values": [0, 2.5, 5, 7.5, 10], "format": ".1f", "title": null}}, "detail": {"field": "key", "type": "nominal"}, "color": {"condition": {"test": "datum.key == 'n'", "value": "#1e90ff"}, "value": "#8a2be2"}}},
        {"transform": [{"fold": ["NYC", "Chicago"], "as": ["city", "v"]}, {"filter": "isValid(datum.v)"}], "mark": {"type": "line", "strokeWidth": 2}, "encoding": {"y": {"field": "v", "type": "quantitative"}, "color": {"field": "city", "type": "nominal"}}},
        {"data": {"name": "events"}, "mark": {"type": "rule", "strokeWidth": 1.5}, "encoding": {"stroke": {"field": "ev", "type": "nominal"}, "strokeDash": {"field": "ev", "type": "nominal"}}},
        {"mark": {"type": "text", "align": "right", "baseline": "middle", "fontWeight": "bold", "fontSize": 19}, "encoding": {"x": {"datum": {"year": 2020, "month": "jun", "date": 22, "hours": 21, "utc": true}}, "y": {"datum": 10.24}, "text": {"value": "#622110"}}}
      ]
    },
    {
      "title": "Hotels/Motels (0.6M)",
      "data": {"name": "hotels"},
      "encoding": {"x": {"field": "d", "type": "temporal", "scale": {"type": "utc", "domain": [{"year": 2020, "month": "feb", "date": 1, "utc": true}, {"year": 2020, "month": "jul", "date": 1, "utc": true}]}, "axis": {"tickCount": "month", "format": "%b", "title": null}}},
      "layer": [
        {"transform": [{"fold": ["n", "c"], "as": ["key", "v"]}, {"filter": "isValid(datum.v)"}], "mark": {"type": "line", "strokeWidth": 2.5, "opacity": 0.2}, "encoding": {"y": {"field": "v", "type": "quantitative", "scale": {"domain": [0, 37.2], "nice": false}, "axis": {"values": [0, 10, 20, 30], "title": null}}, "detail": {"field": "key", "type": "nominal"}, "color": {"condition": {"test": "datum.key == 'n'", "value": "#1e90ff"}, "value": "#8a2be2"}}},
        {"transform": [{"fold": ["NYC", "Chicago"], "as": ["city", "v"]}, {"filter": "isValid(datum.v)"}], "mark": {"type": "line", "strokeWidth": 2}, "encoding": {"y": {"field": "v", "type": "quantitative"}, "color": {"field": "city", "type": "nominal"}}},
        {"data": {"name": "events"}, "mark": {"type": "rule", "strokeWidth": 1.5}, "encoding": {"stroke": {"field": "ev", "type": "nominal"}, "strokeDash": {"field": "ev", "type": "nominal"}}},
        {"mark": {"type": "text", "align": "right", "baseline": "middle", "fontWeight": "bold", "fontSize": 19}, "encoding": {"x": {"datum": {"year": 2020, "month": "jun", "date": 22, "hours": 21, "utc": true}}, "y": {"datum": 34.0}, "text": {"value": "#721110"}}}
      ]
    },
    {
      "title": "Malls (0.5M)",
      "data": {"name": "malls"},
      "encoding": {"x": {"field": "d", "type": "temporal", "scale": {"type": "utc", "domain": [{"year": 2020, "month": "feb", "date": 1, "utc": true}, {"year": 2020, "month": "jul", "date": 1, "utc": true}]}, "axis": {"tickCount": "month", "format": "%b", "title": null}}},
      "layer": [
        {"transform": [{"fold": ["n", "c"], "as": ["key", "v"]}, {"filter": "isValid(datum.v)"}], "mark": {"type": "line", "strokeWidth": 2.5, "opacity": 0.2}, "encoding": {"y": {"field": "v", "type": "quantitative", "scale": {"domain": [0, 19.8], "nice": false}, "axis": {"values": [0, 5, 10, 15], "title": null}}, "detail": {"field": "key", "type": "nominal"}, "color": {"condition": {"test": "datum.key == 'n'", "value": "#1e90ff"}, "value": "#8a2be2"}}},
        {"transform": [{"fold": ["NYC", "Chicago"], "as": ["city", "v"]}, {"filter": "isValid(datum.v)"}], "mark": {"type": "line", "strokeWidth": 2}, "encoding": {"y": {"field": "v", "type": "quantitative"}, "color": {"field": "city", "type": "nominal"}}},
        {"data": {"name": "events"}, "mark": {"type": "rule", "strokeWidth": 1.5}, "encoding": {"stroke": {"field": "ev", "type": "nominal"}, "strokeDash": {"field": "ev", "type": "nominal"}}},
        {"mark": {"type": "text", "align": "right", "baseline": "middle", "fontWeight": "bold", "fontSize": 19}, "encoding": {"x": {"datum": {"year": 2020, "month": "jun", "date": 22, "hours": 21, "utc": true}}, "y": {"datum": 18.1}, "text": {"value": "#531120"}}}
      ]
    },
    {
      "title": "Schools (3.0M)",
      "data": {"name": "schools"},
      "encoding": {"x": {"field": "d", "type": "temporal", "scale": {"type": "utc", "domain": [{"year": 2020, "month": "feb", "date": 1, "utc": true}, {"year": 2020, "month": "jul", "date": 1, "utc": true}]}, "axis": {"tickCount": "month", "format": "%b", "title": null}}},
      "layer": [
        {"transform": [{"fold": ["n", "c"], "as": ["key", "v"]}, {"filter": "isValid(datum.v)"}], "mark": {"type": "line", "strokeWidth": 2.5, "opacity": 0.2}, "encoding": {"y": {"field": "v", "type": "quantitative", "scale": {"domain": [0, 356.7], "nice": false}, "axis": {"values": [0, 100, 200, 300], "title": null}}, "detail": {"field": "key", "type": "nominal"}, "color": {"condition": {"test": "datum.key == 'n'", "value": "#1e90ff"}, "value": "#8a2be2"}}},
        {"transform": [{"fold": ["NYC", "Chicago"], "as": ["city", "v"]}, {"filter": "isValid(datum.v)"}], "mark": {"type": "line", "strokeWidth": 2}, "encoding": {"y": {"field": "v", "type": "quantitative"}, "color": {"field": "city", "type": "nominal"}}},
        {"data": {"name": "events"}, "mark": {"type": "rule", "strokeWidth": 1.5}, "encoding": {"stroke": {"field": "ev", "type": "nominal"}, "strokeDash": {"field": "ev", "type": "nominal"}}},
        {"mark": {"type": "text", "align": "right", "baseline": "middle", "fontWeight": "bold", "fontSize": 19}, "encoding": {"x": {"datum": {"year": 2020, "month": "jun", "date": 22, "hours": 21, "utc": true}}, "y": {"datum": 326}, "text": {"value": "#611110"}}}
      ]
    },
    {
      "title": {"text": "Supermarkets (2.9M)", "offset": -1},
      "data": {"name": "supermarkets"},
      "encoding": {"x": {"field": "d", "type": "temporal", "scale": {"type": "utc", "domain": [{"year": 2020, "month": "feb", "date": 1, "utc": true}, {"year": 2020, "month": "jul", "date": 1, "utc": true}]}, "axis": {"tickCount": "month", "format": "%b", "title": null}}},
      "layer": [
        {"transform": [{"fold": ["n", "c"], "as": ["key", "v"]}, {"filter": "isValid(datum.v)"}], "mark": {"type": "line", "strokeWidth": 2.5, "opacity": 0.2}, "encoding": {"y": {"field": "v", "type": "quantitative", "scale": {"domain": [0, 61], "nice": false}, "axis": {"values": [0, 20, 40, 60], "title": null}}, "detail": {"field": "key", "type": "nominal"}, "color": {"condition": {"test": "datum.key == 'n'", "value": "#1e90ff"}, "value": "#8a2be2"}}},
        {"transform": [{"fold": ["NYC", "Chicago"], "as": ["city", "v"]}, {"filter": "isValid(datum.v)"}], "mark": {"type": "line", "strokeWidth": 2}, "encoding": {"y": {"field": "v", "type": "quantitative"}, "color": {"field": "city", "type": "nominal"}}},
        {"data": {"name": "events"}, "mark": {"type": "rule", "strokeWidth": 1.5}, "encoding": {"stroke": {"field": "ev", "type": "nominal"}, "strokeDash": {"field": "ev", "type": "nominal"}}},
        {"mark": {"type": "text", "align": "right", "baseline": "middle", "fontWeight": "bold", "fontSize": 19}, "encoding": {"x": {"datum": {"year": 2020, "month": "jun", "date": 22, "hours": 21, "utc": true}}, "y": {"datum": 55.8}, "text": {"value": "#445110"}}}
      ]
    }
  ],
  "config": {
    "font": "DejaVu Sans",
    "view": {"continuousWidth": 410, "continuousHeight": 282, "stroke": "black", "strokeWidth": 1.5},
    "axis": {"grid": false, "domainColor": "black", "domainWidth": 1.5, "tickColor": "black", "tickWidth": 1.5, "tickSize": 7, "labelColor": "black", "labelFont": "DejaVu Sans", "labelFontSize": 26, "labelPadding": 4, "labelFlush": false, "labelOverlap": false, "titleFont": "DejaVu Sans", "titleFontSize": 30, "titleFontWeight": "normal", "titleColor": "black"},
    "title": {"font": "DejaVu Sans", "fontSize": 30, "fontWeight": "normal", "color": "black", "anchor": "middle", "offset": 6},
    "legend": {"labelFont": "DejaVu Sans", "labelColor": "black"},
    "text": {"font": "DejaVu Sans", "color": "black"}
  }
}
